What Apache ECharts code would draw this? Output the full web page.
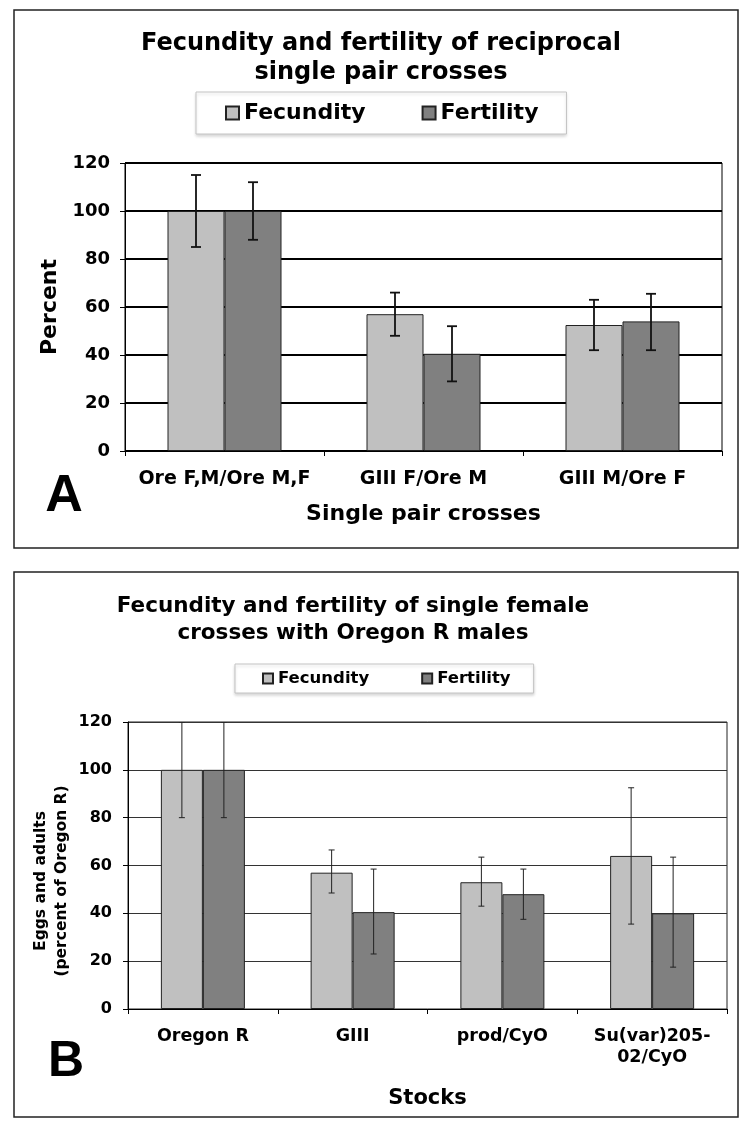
<!DOCTYPE html>
<html lang="en">
<head>
  <meta charset="UTF-8">
  <title>Fecundity and fertility</title>
  <script src="https://cdn.jsdelivr.net/npm/echarts@6/dist/echarts.min.js"></script>
  <style>
    html,body{margin:0;padding:0;background:#fff;}
    #main{width:750px;height:1132px;}
  </style>
</head>
<body>
  <div id="main"></div>
  <script>
    // panel A: reciprocal single pair crosses
    var catsA = ['Ore F,M/Ore M,F', 'GIII F/Ore M', 'GIII M/Ore F'];
    var fecA = [100, 57, 52.5];
    var ferA = [100, 40.5, 54];
    var fecErrA = [[85, 115], [48, 66], [42, 63]];
    var ferErrA = [[88, 112], [29, 52], [42, 65.5]];
    // panel B: single female crosses with Oregon R males
    var catsB = ['Oregon R', 'GIII', 'prod/CyO', 'Su(var)205-\n02/CyO'];
    var fecB = [100, 57, 53, 64];
    var ferB = [100, 40.5, 48, 40];
    var fecErrB = [[80, 120], [48.5, 66.5], [43, 63.5], [35.5, 92.5]];
    var ferErrB = [[80, 120], [23, 58.5], [37.5, 58.5], [17.5, 63.5]];
    // y ticks
    var yMin = 0, yMax = 120, yStep = 20;

    var FONT = 'DejaVu Sans';
    var bwA = 57, bwB = 42;

    function errData(arr){
      var out = [];
      for(var i=0;i<arr.length;i++){
        out.push([i, arr[i][0], arr[i][1]]);
      }
      return out;
    }

    // error bar drawn through the axes
    function errSeries(name, data, gridIdx, offset, cap, lw, col){
      return {
        type: 'custom',
        name: name + ' err',
        xAxisIndex: gridIdx,
        yAxisIndex: gridIdx,
        z: 5,
        clip: true,
        data: errData(data),
        renderItem: function(params, api){
          var lo = api.coord([api.value(0), api.value(1)]);
          var hi = api.coord([api.value(0), api.value(2)]);
          var x = lo[0] + offset;
          var st = {stroke: col, lineWidth: lw};
          return {
            type: 'group',
            children: [
              {type:'line', shape:{x1:x, y1:lo[1], x2:x, y2:hi[1]}, style:st},
              {type:'line', shape:{x1:x-cap, y1:lo[1], x2:x+cap, y2:lo[1]}, style:st},
              {type:'line', shape:{x1:x-cap, y1:hi[1], x2:x+cap, y2:hi[1]}, style:st}
            ]
          };
        }
      };
    }

    function barSeries(name, data, gridIdx, color, bw){
      return {
        type: 'bar',
        name: name,
        xAxisIndex: gridIdx,
        yAxisIndex: gridIdx,
        data: data,
        barWidth: bw,
        barGap: '0%',
        itemStyle: {color: color, borderColor: '#222', borderWidth: 1}
      };
    }

    function yAxisCfg(gridIdx, gridColor, gridW, fs, mg){
      return {
        type: 'value',
        gridIndex: gridIdx,
        min: yMin, max: yMax, interval: yStep,
        axisLine: {show: true, lineStyle: {color: '#000', width: 1}},
        axisTick: {show: true, length: 5, lineStyle: {color: '#000'}},
        axisLabel: {color: '#000', fontFamily: FONT, fontWeight: 'bold', fontSize: fs, margin: mg},
        splitLine: {show: true, lineStyle: {color: gridColor, width: gridW}}
      };
    }

    function xAxisCfg(gridIdx, cats, nm, gap, fs, mg, nfs){
      return {
        type: 'category',
        gridIndex: gridIdx,
        data: cats,
        name: nm,
        nameLocation: 'middle',
        nameGap: gap,
        nameTextStyle: {color: '#000', fontFamily: FONT, fontWeight: 'bold', fontSize: nfs},
        axisLine: {show: true, lineStyle: {color: '#000', width: 1}},
        axisTick: {show: true, length: 5, lineStyle: {color: '#000'}},
        axisLabel: {color: '#000', fontFamily: FONT, fontWeight: 'bold', fontSize: fs, margin: mg, lineHeight: 21, interval: 0}
      };
    }

    var myChart = echarts.init(document.getElementById('main'));
    var option = {
      animation: false,
      backgroundColor: '#fff',
      legend: [{
        data: ['Fecundity', 'Fertility'],
        left: 196, top: 92,
        padding: [10, 28, 10, 29],
        itemGap: 56,
        itemWidth: 13, itemHeight: 13,
        icon: 'rect',
        borderColor: '#c4c4c4', borderWidth: 1,
        shadowColor: 'rgba(0,0,0,0.15)', shadowBlur: 3, shadowOffsetY: 2,
        backgroundColor: '#fff',
        textStyle: {color: '#000', fontFamily: FONT, fontWeight: 'bold', fontSize: 22}
      }, {
        data: ['Fecundity', 'Fertility'],
        left: 235, top: 664,
        padding: [6, 23, 6, 27],
        itemGap: 52,
        itemWidth: 10, itemHeight: 10,
        icon: 'rect',
        borderColor: '#c4c4c4', borderWidth: 1,
        shadowColor: 'rgba(0,0,0,0.15)', shadowBlur: 3, shadowOffsetY: 2,
        backgroundColor: '#fff',
        textStyle: {color: '#000', fontFamily: FONT, fontWeight: 'bold', fontSize: 16.5}
      }],
      grid: [
        {left: 125, top: 163, width: 597, height: 288, show: true, borderColor: '#000', borderWidth: 1, backgroundColor: 'transparent'},
        {left: 128, top: 722, width: 599, height: 287, show: true, borderColor: '#222', borderWidth: 1, backgroundColor: 'transparent'}
      ],
      xAxis: [
        xAxisCfg(0, catsA, 'Single pair crosses', 52, 19, 18, 22),
        xAxisCfg(1, catsB, 'Stocks', 79, 17.5, 17, 21)
      ],
      yAxis: [
        (function(){
          var a = yAxisCfg(0, '#000', 1.8, 18, 15);
          a.name = 'Percent';
          a.nameLocation = 'middle';
          a.nameGap = 63;
          a.nameRotate = 90;
          a.nameTextStyle = {color: '#000', fontFamily: FONT, fontWeight: 'bold', fontSize: 22};
          return a;
        })(),
        yAxisCfg(1, '#333', 1.2, 16, 16)
      ],
      graphic: [
        // panel frames
        {type: 'rect', shape: {x: 14, y: 10, width: 724, height: 538}, style: {fill: 'none', stroke: '#222', lineWidth: 1.5}, silent: true},
        {type: 'rect', shape: {x: 14, y: 572, width: 724, height: 545}, style: {fill: 'none', stroke: '#222', lineWidth: 1.5}, silent: true},
        // titles
        {type: 'text', x: 381, y: 44, style: {text: 'Fecundity and fertility of reciprocal', font: 'bold 24px "DejaVu Sans"', fill: '#000', textAlign: 'center', textVerticalAlign: 'middle'}},
        {type: 'text', x: 381, y: 73, style: {text: 'single pair crosses', font: 'bold 24px "DejaVu Sans"', fill: '#000', textAlign: 'center', textVerticalAlign: 'middle'}},
        {type: 'text', x: 353, y: 606, style: {text: 'Fecundity and fertility of single female', font: 'bold 21.5px "DejaVu Sans"', fill: '#000', textAlign: 'center', textVerticalAlign: 'middle'}},
        {type: 'text', x: 353, y: 633, style: {text: 'crosses with Oregon R males', font: 'bold 21.5px "DejaVu Sans"', fill: '#000', textAlign: 'center', textVerticalAlign: 'middle'}},
        // panel letters
        {type: 'text', x: 64, y: 497, style: {text: 'A', font: 'bold 52px "Liberation Sans"', fill: '#000', textAlign: 'center', textVerticalAlign: 'middle'}},
        {type: 'text', x: 66, y: 1062, style: {text: 'B', font: 'bold 50px "Liberation Sans"', fill: '#000', textAlign: 'center', textVerticalAlign: 'middle'}},
        // y name B (two lines)
        {type: 'text', x: 51, y: 881, rotation: Math.PI / 2, style: {text: 'Eggs and adults\n(percent of Oregon R)', font: 'bold 15.5px "DejaVu Sans"', lineHeight: 21, fill: '#000', textAlign: 'center', textVerticalAlign: 'middle'}}
      ],
      series: [
        barSeries('Fecundity', fecA, 0, '#c0c0c0', bwA),
        barSeries('Fertility', ferA, 0, '#808080', bwA),
        barSeries('Fecundity', fecB, 1, '#c0c0c0', bwB),
        barSeries('Fertility', ferB, 1, '#808080', bwB),
        errSeries('Fecundity', fecErrA, 0, -bwA / 2, 5, 1.8, '#111'),
        errSeries('Fertility', ferErrA, 0, bwA / 2, 5, 1.8, '#111'),
        errSeries('Fecundity', fecErrB, 1, -bwB / 2, 3, 1, '#222'),
        errSeries('Fertility', ferErrB, 1, bwB / 2, 3, 1, '#222')
      ]
    };
    if(option && typeof option === "object") {
      myChart.setOption(option, true);
    }
  </script>
</body>
</html>
